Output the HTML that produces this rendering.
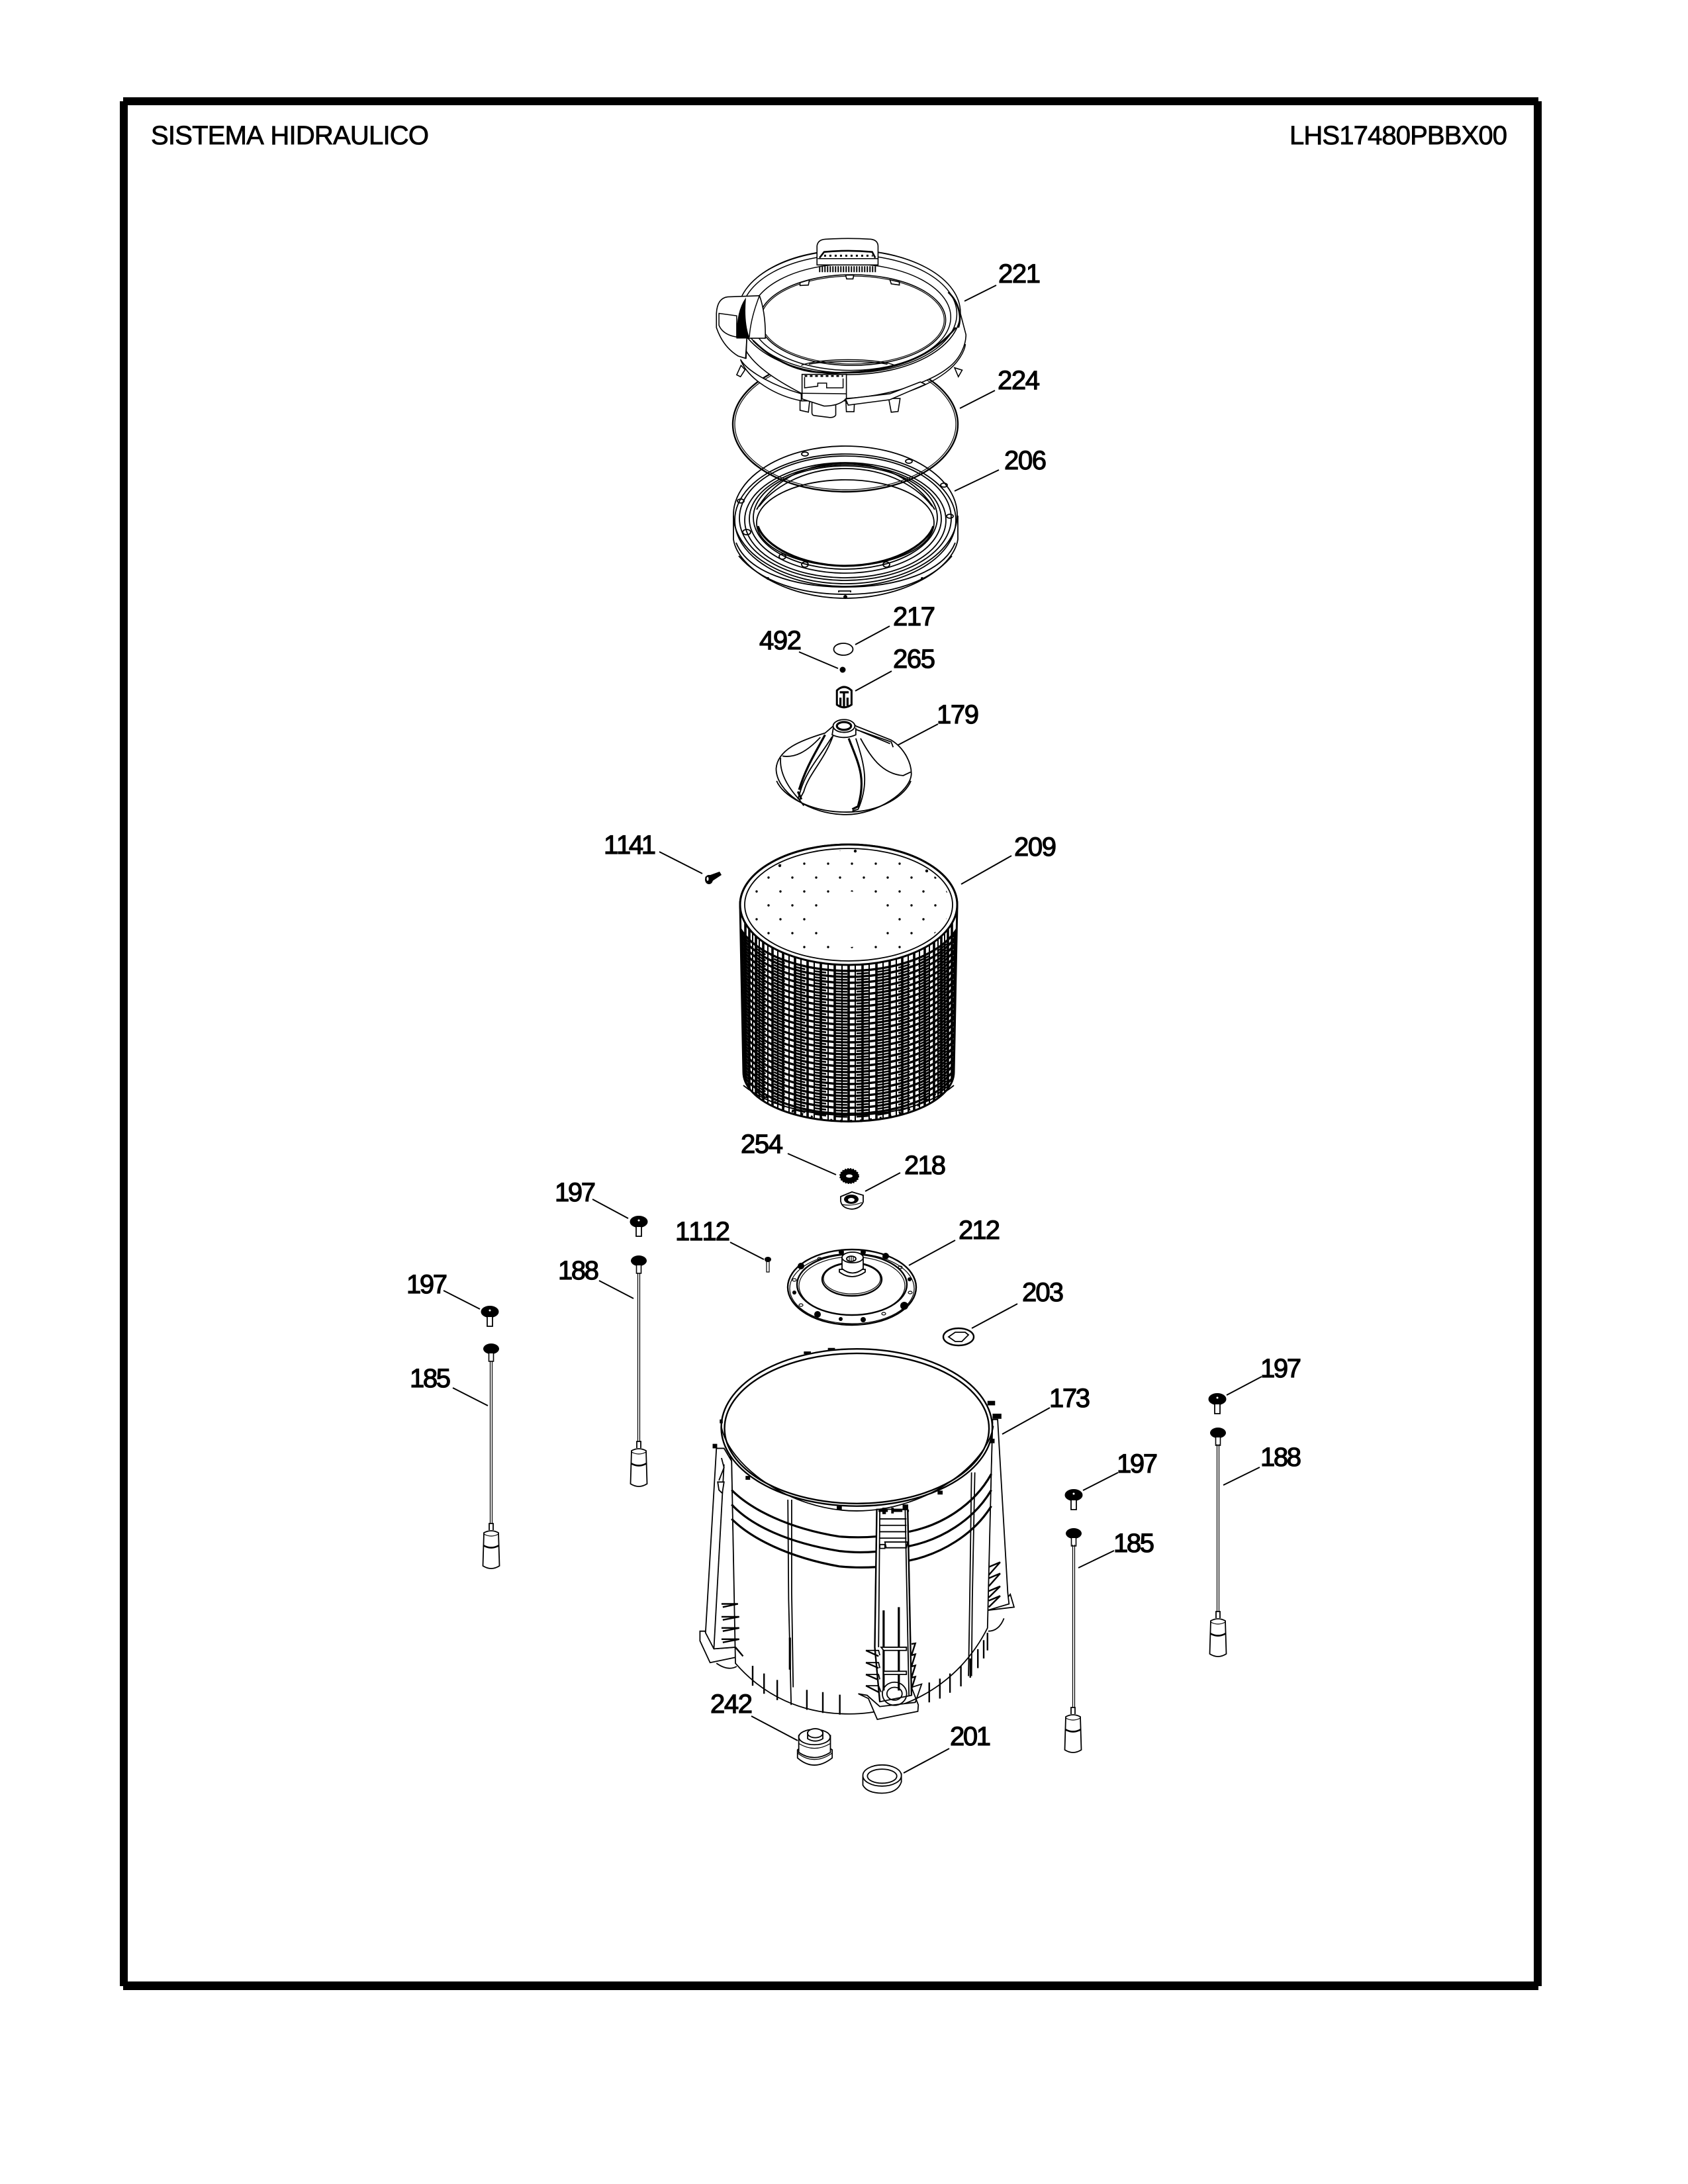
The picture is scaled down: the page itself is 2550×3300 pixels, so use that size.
<!DOCTYPE html>
<html><head><meta charset="utf-8"><title>SISTEMA HIDRAULICO</title>
<style>
html,body{margin:0;padding:0;background:#fff;width:2550px;height:3300px;overflow:hidden}
svg{display:block}
.z *{vector-effect:non-scaling-stroke}
.l{stroke:#000;stroke-width:1.8;fill:none}
.w{stroke:#000;stroke-width:1.8;fill:#fff}
.t{stroke:#000;stroke-width:3.2;fill:none}
.n{stroke:#000;stroke-width:1.2;fill:none}
.b{fill:#000;stroke:#000;stroke-width:1}
.thin .l{stroke-width:1.5}.thin .w{stroke-width:1.6}.thin .t{stroke-width:2.6}
text{font-family:"Liberation Sans",Arial,sans-serif;font-size:40px;fill:#000;font-kerning:none}
.lb{stroke:#000;stroke-width:1.2}
.tt{stroke:#000;stroke-width:.8}
</style></head><body>
<svg xmlns="http://www.w3.org/2000/svg" width="2550" height="3300" viewBox="0 0 2550 3300">
<defs>
<clipPath id="bk"><path d="M1118 1367A164 91 0 0 1 1446 1367L1441 1620A158 74 0 0 1 1123 1620Z"/></clipPath>
<clipPath id="tp"><ellipse cx="1282" cy="1367" rx="153" ry="82"/></clipPath>
<pattern id="dots" x="1282" y="1300" width="36" height="42" patternUnits="userSpaceOnUse">
<circle cx="5" cy="5" r="1.7"/><circle cx="23" cy="26" r="1.7"/></pattern>
<path id="a" d="M1110 0A172 92 0 0 0 1454 0" fill="none"/>
<g id="set"><use href="#a" y="1375"/><use href="#a" y="1384"/><use href="#a" y="1393"/><use href="#a" y="1402"/><use href="#a" y="1411"/><use href="#a" y="1420"/><use href="#a" y="1429"/><use href="#a" y="1438"/><use href="#a" y="1447"/><use href="#a" y="1456"/><use href="#a" y="1465"/><use href="#a" y="1474"/><use href="#a" y="1483"/><use href="#a" y="1492"/><use href="#a" y="1501"/><use href="#a" y="1510"/><use href="#a" y="1519"/><use href="#a" y="1528"/><use href="#a" y="1537"/><use href="#a" y="1546"/><use href="#a" y="1555"/><use href="#a" y="1564"/><use href="#a" y="1573"/><use href="#a" y="1582"/><use href="#a" y="1591"/></g>
<g id="capA"><ellipse cx="0" cy="0" rx="13.5" ry="9" fill="#000"/><circle cx="0" cy="-2" r="1.5" fill="#fff"/><path d="M-4 8V22H4V8" fill="#fff" stroke="#000" stroke-width="1.8"/></g>
<g id="capB"><ellipse cx="0" cy="0" rx="12" ry="8" fill="#000"/><path d="M-3.500 7V19H3.500V7" fill="#fff" stroke="#000" stroke-width="1.6"/></g>
<g id="wt"><path d="M-3 0V-10H3V0" fill="#fff" stroke="#000" stroke-width="1.8"/>
<path d="M-11 4L-12.500 54Q0 62 12.500 54L11 4Q0 -2 -11 4Z" fill="#fff" stroke="#000" stroke-width="1.8"/>
<path d="M-11 6Q0 12 11 6" class="n"/><path d="M-12 23Q0 30 12 23" class="l" style="stroke-width:2.6"/></g>
</defs>

<!-- frame -->
<rect x="186" y="147" width="2138" height="12"/>
<rect x="186" y="2994" width="2138" height="13"/>
<rect x="181" y="153" width="12" height="2848"/>
<rect x="2317" y="153" width="12" height="2848"/>
<text class="tt" x="228" y="218" textLength="420">SISTEMA HIDRAULICO</text>
<text class="tt" x="1948" y="218" textLength="329">LHS17480PBBX00</text>

<!-- 206 -->
<g class="z">
<path class="w" d="M1108 780V815C1115 860 1190 904 1277 904C1365 904 1440 860 1447 815V780Z"/>
<ellipse class="w" cx="1277" cy="778" rx="169" ry="104"/>
<ellipse class="l" cx="1277" cy="786" rx="167" ry="100" />
<path class="l" d="M1112 820C1130 865 1200 887 1277 887C1355 887 1425 865 1443 820"/>
<path class="l" d="M1116 840C1150 880 1210 898 1277 898C1345 898 1405 880 1438 840"/>
<ellipse class="l" cx="1277" cy="783" rx="160" ry="94"/>
<ellipse class="l" cx="1277" cy="786" rx="152" ry="87"/>
<ellipse class="l" cx="1277" cy="784" rx="145" ry="82"/>
<ellipse class="l" cx="1277" cy="782" rx="139" ry="78"/>
<ellipse class="w" cx="1277" cy="790" rx="134" ry="65"/>
<path class="t" d="M1145 795C1155 825 1210 855 1277 855C1345 855 1400 825 1410 795"/>
<path class="l" d="M1277 700C1200 700 1160 740 1143 770M1277 708C1210 708 1165 740 1147 765M1277 700C1350 700 1395 740 1412 770M1277 708C1345 708 1390 740 1408 765"/>
<g class="l"><ellipse cx="1119" cy="757" rx="5" ry="3"/><ellipse cx="1435" cy="780" rx="5" ry="3"/><ellipse cx="1426" cy="733" rx="5" ry="3"/><ellipse cx="1216" cy="686" rx="5" ry="3"/><ellipse cx="1373" cy="697" rx="5" ry="3"/><ellipse cx="1182" cy="841" rx="5" ry="4"/><ellipse cx="1216" cy="853" rx="5" ry="4"/><ellipse cx="1339" cy="853" rx="5" ry="4"/><ellipse cx="1128" cy="804" rx="6" ry="4"/></g>
<circle cx="1277" cy="902" r="3"/><circle cx="1160" cy="874" r="2"/><circle cx="1393" cy="874" r="2"/>
<path class="l" d="M1267 895V893H1285V895"/>
</g>

<!-- 224 ring -->
<ellipse class="l" cx="1277" cy="641" rx="170" ry="102" style="stroke-width:2.4"/>
<ellipse class="n" cx="1277" cy="641" rx="167" ry="99"/>

<!-- 221 -->
<g class="z thin" transform="translate(1000 320) scale(.3827 .3571)">
<path class="w" d="M295 690L312 650L328 668L310 698Z"/>
<path class="w" d="M1155 660L1185 670L1170 698Z"/>
<path class="w" d="M545 790L584 790L578 848L545 840Z"/>
<path class="w" d="M726 800L760 800L758 846L728 846Z"/>
<path class="w" d="M895 790L940 790L932 845L905 848Z"/>
<path class="w" d="M592 800H686V860Q680 872 660 870L600 862Q592 860 592 850Z"/>
<path class="w" d="M310 625C340 680 450 740 550 770L552 800C450 780 340 710 310 625Z"/>
<path class="w" d="M300 430C300 560 320 640 550 768V800H725V790C900 780 1060 720 1130 660C1180 620 1200 560 1200 520L1178 430C1178 300 1000 160 740 163C480 160 300 290 300 430Z"/>
<path class="l" d="M728 810C900 800 1040 745 1120 680C1170 640 1195 590 1198 560"/>
<ellipse class="w" cx="739" cy="426" rx="439" ry="263"/>
<ellipse class="l" cx="739" cy="432" rx="425" ry="250"/>
<ellipse class="l" cx="745" cy="446" rx="395" ry="225"/>
<ellipse class="w" cx="752" cy="458" rx="368" ry="192"/>
<ellipse class="n" cx="752" cy="458" rx="362" ry="186"/>
<path class="t" d="M360 545C420 610 520 680 640 680C900 690 1060 620 1160 490"/>
<path class="t" d="M1130 340C1170 380 1185 440 1170 490"/>
<path class="l" d="M550 650C620 618 850 618 920 650M580 645C650 630 820 630 890 645"/>
<path class="w" d="M545 300L582 288L578 310L545 312Z"/>
<path class="w" d="M725 268H757L754 284H729Z"/>
<path class="w" d="M900 288L937 297V310L905 305Z"/>
<!-- top handle -->
<path class="w" d="M612 225V145Q615 118 645 116Q735 110 825 116Q852 120 853 145V225Z"/>
<path class="t" d="M622 195L640 170Q735 160 830 170L842 195"/>
<path stroke="#000" stroke-width="3" stroke-dasharray="3 5" fill="none" d="M640 186H832"/>
<path class="l" d="M615 198H855"/>
<path stroke="#000" stroke-width="9" stroke-dasharray="2 2" fill="none" d="M620 243H848"/>
<!-- left handle -->
<path class="w" d="M215 430Q218 365 260 360L385 355Q410 430 408 535L335 535L330 620L300 610Q240 570 215 490Z"/>
<path class="l" d="M225 430L295 440V530Q240 520 225 480Z"/>
<path class="b" d="M330 368Q295 420 295 535H345Q322 470 330 368Z"/>
<path class="l" d="M335 535L332 622"/>
<path class="l" d="M385 355Q350 450 345 530"/>
<!-- front block -->
<path class="w" d="M553 688H728V790Q700 822 640 822L553 792Z"/>
<path class="l" d="M563 700V745L615 738V725H650V745L715 745V705"/>
<path class="t" d="M563 695H715" style="stroke-dasharray:4 4"/>
<path class="l" d="M553 768L728 770"/>
<path class="w" d="M725 792L900 770L1020 720L1040 730L900 795L735 818Z"/>
</g>

<!-- 217 492 265 -->
<ellipse class="l" cx="1274" cy="981" rx="14.5" ry="9"/>
<circle cx="1273" cy="1012" r="4.5"/>
<g class="z" transform="translate(1050 880) scale(.3571 .5356)">
<path class="w" d="M600 305Q630 285 662 305V345Q630 360 600 345Z" style="stroke-width:3"/>
<path class="t" d="M612 310H650M630 310V350M615 325V348M645 325V348"/>

<!-- 179 -->
<path class="w" d="M343 525C350 470 450 445 550 425L585 405Q630 375 680 405L830 445C880 465 915 505 915 540C912 590 770 655 640 655C480 655 343 590 343 525Z"/>
<path class="l" d="M345 560C370 600 480 648 640 648C790 648 890 600 913 560"/>
<path class="l" d="M362 495Q355 550 440 612L460 630"/>
<path class="l" d="M370 490C420 495 470 480 530 437"/>
<path class="l" d="M580 435C530 490 470 530 445 590L435 612"/>
<path class="t" d="M550 430C510 480 470 520 440 585"/>
<path class="l" d="M585 430C550 500 480 540 460 590L440 615"/>
<path class="t" d="M650 440C690 510 725 550 690 630"/>
<path class="l" d="M680 440C720 520 735 570 690 640L665 645"/>
<path class="l" d="M700 440C740 490 790 540 880 545L912 535"/>
<path class="l" d="M680 415L830 450L838 465"/>
<path class="l" d="M700 420L825 455"/>
<path class="l" d="M585 410L580 430Q630 445 680 430L680 410"/>
<ellipse class="w" cx="630" cy="405" rx="46" ry="18"/>
<ellipse class="t" cx="630" cy="405" rx="30" ry="11"/>
<path class="t" d="M435 590L450 612M665 640L695 630"/>
</g>

<!-- 1141 screw -->
<path d="M1065 1325L1087 1317L1090 1322L1072 1334Z" fill="#000"/><ellipse cx="1071" cy="1329" rx="6" ry="7" fill="#000"/><ellipse cx="1069" cy="1328" rx="1.5" ry="3" fill="#fff"/>

<!-- 209 basket -->
<path fill="#fff" stroke="#000" stroke-width="3" d="M1118 1367A164 91 0 0 1 1446 1367L1441 1620A158 74 0 0 1 1123 1620Z"/>
<g clip-path="url(#bk)">
<g stroke="#000" stroke-width="3.4"><use href="#set"/></g>
<g stroke="#000" stroke-width="2.6" stroke-dasharray="18 14" transform="translate(0 4.5)"><use href="#set"/></g>
<path fill="none" stroke="#000" stroke-width="3.6" d="M1282 1360V1710M1303 1360V1710M1261 1360V1710M1324 1360V1710M1240 1360V1710M1344 1360V1710M1220 1360V1710M1363 1360V1710M1201 1360V1710M1381 1360V1710M1183 1360V1710M1397 1360V1710M1167 1360V1710M1411 1360V1710M1153 1360V1710M1422 1360V1710M1142 1360V1710M1432 1360V1710M1132 1360V1710M1438 1360V1710M1126 1360V1710"/>
<path fill="none" stroke="#000" stroke-width="2" d="M1292 1360V1710M1272 1360V1710M1313 1360V1710M1251 1360V1710M1334 1360V1710M1230 1360V1710M1354 1360V1710M1210 1360V1710M1372 1360V1710M1192 1360V1710M1389 1360V1710M1175 1360V1710M1404 1360V1710M1160 1360V1710M1417 1360V1710M1147 1360V1710M1427 1360V1710M1137 1360V1710"/>
</g>
<path fill="none" stroke="#000" stroke-width="2" d="M1123 1640C1160 1670 1220 1685 1282 1685C1345 1685 1405 1670 1441 1640"/>
<path fill="none" stroke="#000" stroke-width="4" stroke-dasharray="3 12" d="M1125 1625C1160 1672 1220 1694 1282 1694C1345 1694 1405 1672 1439 1625"/>
<ellipse class="w" cx="1282" cy="1367" rx="164" ry="91" style="stroke-width:3"/>
<ellipse class="l" cx="1282" cy="1367" rx="157" ry="85"/>
<rect x="1120" y="1280" width="320" height="170" fill="url(#dots)" clip-path="url(#tp)"/>
<ellipse cx="1282" cy="1389" rx="47" ry="42" fill="#fff"/>
<circle cx="1292" cy="1286" r="2.2"/><circle cx="1178" cy="1308" r="2.2"/><circle cx="1400" cy="1316" r="2.2"/>

<!-- 254 218 -->
<ellipse cx="1283" cy="1777" rx="14" ry="11" fill="#000" stroke="#000" stroke-width="2" stroke-dasharray="2 2"/>
<ellipse cx="1283" cy="1777" rx="5" ry="2.5" fill="#fff"/>
<path class="w" d="M1270 1808L1287 1801L1304 1806L1304 1816Q1300 1826 1287 1827Q1272 1826 1270 1815Z"/>
<ellipse cx="1286" cy="1812" rx="11" ry="7" fill="#000"/><ellipse cx="1286" cy="1813" rx="5" ry="3" fill="#fff"/>
<path class="n" d="M1272 1820Q1287 1823 1302 1817"/>

<!-- 212 -->
<ellipse class="w" cx="1287" cy="1945" rx="97" ry="57" style="stroke-width:2.4"/>
<ellipse class="n" cx="1287" cy="1947" rx="94" ry="53"/>
<ellipse class="l" cx="1287" cy="1941" rx="83" ry="46" style="stroke-width:2.4"/>
<ellipse class="n" cx="1287" cy="1943" rx="80" ry="44"/>
<ellipse class="l" cx="1287" cy="1933" rx="45" ry="25" style="stroke-width:2.4"/>
<ellipse class="n" cx="1287" cy="1932" rx="43" ry="23"/>
<path class="w" d="M1268 1918V1922Q1287 1936 1307 1922V1918Z"/>
<path class="w" d="M1272 1900V1917Q1288 1930 1304 1917V1900Z"/>
<ellipse class="w" cx="1288" cy="1900" rx="16" ry="8"/>
<ellipse class="l" cx="1286" cy="1902" rx="7" ry="4"/><path class="n" d="M1283 1899V1905M1286 1898V1906M1289 1899V1905"/>
<g fill="#000"><circle cx="1271" cy="1892" r="4"/><circle cx="1304" cy="1892" r="4"/><circle cx="1210" cy="1913" r="5"/><circle cx="1338" cy="1898" r="5"/><circle cx="1366" cy="1973" r="6"/><circle cx="1235" cy="1986" r="5"/><circle cx="1304" cy="1994" r="4"/><circle cx="1270" cy="1993" r="3"/><circle cx="1200" cy="1953" r="3"/><circle cx="1374" cy="1933" r="3"/></g>
<g class="n"><ellipse cx="1200" cy="1934" rx="3" ry="2"/><ellipse cx="1375" cy="1953" rx="3" ry="2"/><ellipse cx="1360" cy="1915" rx="3" ry="2"/><ellipse cx="1238" cy="1902" rx="3" ry="2"/><ellipse cx="1335" cy="1985" rx="3" ry="2"/><ellipse cx="1210" cy="1972" rx="3" ry="2"/></g>

<!-- 1112 screw -->
<ellipse cx="1160" cy="1903" rx="5" ry="4" fill="#000"/><path d="M1158 1905V1922H1162V1905" class="n" fill="#fff"/>

<!-- 203 -->
<ellipse class="w" cx="1448" cy="2020" rx="23" ry="13" style="stroke-width:2.4"/>
<path class="l" d="M1433 2020L1443 2013H1458L1463 2017L1453 2027H1443Z"/>

<!-- 173 -->
<g class="z" transform="translate(1000 1980) scale(.3827 .4847)">
<path class="w" d="M150 1000L150 1030L190 1098L300 1080L320 1075L290 1050L205 1055L170 1000Z"/>
<path class="w" d="M1285 935L1390 925L1375 885L1360 900L1290 920Z"/>
<path class="w" d="M215 430L172 1005L205 1055L290 1050L275 470L245 430Z"/>
<path class="w" d="M1305 340H1325L1365 880L1370 915L1285 935Z"/>
<path class="w" d="M235 360L275 470L290 1100C400 1200 550 1258 740 1258C950 1258 1170 1170 1285 990L1300 500L1305 350Z"/>
<path class="l" d="M205 1055L245 480"/>
<path class="l" d="M1288 1000Q1330 1000 1350 960"/>
<path class="l" d="M215 1100Q260 1125 295 1110"/>
<path class="t" d="M275 560C350 620 500 680 700 705C750 708 800 708 845 705"/>
<path class="t" d="M275 605C350 670 500 725 700 750C750 755 800 755 845 752"/>
<path class="t" d="M275 650C350 710 500 770 700 798C750 802 800 802 845 800"/>
<path class="t" d="M975 690C1100 670 1230 610 1300 510"/>
<path class="t" d="M975 735C1100 715 1230 655 1300 560"/>
<path class="t" d="M975 780C1100 760 1230 700 1300 610"/>
<path class="l" d="M497 590L500 900L510 1230"/>
<path class="l" d="M512 590L512 880L518 1175"/>
<path class="t" d="M505 1020V1120"/>
<path class="l" d="M1222 505L1215 900L1210 1140"/>
<path class="l" d="M1235 505L1225 900L1222 1140"/>
<!-- bottom ticks -->
<path class="l" style="stroke-width:2.4" d="M358 1108V1170M403 1132V1195M455 1152V1215M572 1183V1245M635 1190V1255M702 1198V1260M1055 1160V1222M1097 1148V1210M1137 1132V1192M1180 1108V1172M1217 1085V1145M1247 1056V1115M1270 1028V1085M1285 1005V1060"/>
<!-- center column -->
<path class="w" d="M848 620H970L985 1200L860 1220L840 1050Z"/>
<path class="l" style="stroke-width:2.4" d="M848 620L840 1050L860 1220M970 620L985 1200"/>
<path class="l" d="M860 620L855 1050M960 620L975 1200"/>
<path class="l" d="M858 650H965M858 670H965M858 690H965M858 710H965"/>
<path class="l" d="M880 722H970L965 740H885ZM860 730H880V742H860Z"/>
<path class="t" d="M855 625H975" style="stroke-dasharray:14 8"/>
<path class="t" d="M875 935V1185M935 925V1185"/>
<path class="w" d="M775 1195L810 1200L860 1235L1000 1222L1025 1165L985 1175L1012 1230L1010 1250L850 1275L815 1210Z"/>
<ellipse class="l" cx="918" cy="1195" rx="30" ry="20"/>
<ellipse class="l" cx="918" cy="1195" rx="48" ry="36"/>
<path class="w" d="M865 1050H965V1060H875ZM875 1125H965V1135H875Z"/>
<!-- fins -->
<path class="l" d="M805 1060H855L860 1075M805 1098H855L860 1115M805 1135H855L860 1150M805 1170H855L865 1190"/>
<path class="l" style="stroke-width:2.4" d="M805 1060L855 1078M805 1098L855 1115M805 1135L855 1152M805 1170L855 1190"/>
<path class="l" style="stroke-width:2.4" d="M985 1040L1000 1038L985 1075M985 1075L1000 1072L985 1110M985 1110L1000 1107L985 1145M985 1145L1000 1142L985 1180"/>
<path class="l" style="stroke-width:2.4" d="M235 915H300L240 925M235 955H305L240 965M235 990H305L240 1000M235 1025H305L240 1035M290 1050L320 1078"/>
<path class="l" style="stroke-width:2.4" d="M1290 800L1335 785L1290 825M1290 835L1335 820L1290 860M1290 875L1335 860L1290 895M1290 905L1335 890L1290 925"/>
<!-- left leg top -->
<path class="l" d="M235 460L245 490L225 530"/>
<path class="w" d="M220 535H245L238 570L225 560Z"/>
<!-- rim -->
<ellipse class="w" cx="769" cy="365" rx="535" ry="245" style="stroke-width:2.4"/>
<ellipse class="w" cx="769" cy="368" rx="522" ry="234" style="stroke-width:2.4"/>
<path class="l" d="M234 360C260 480 500 625 769 625C1040 625 1285 480 1308 360"/>
<g fill="#000"><rect x="690" y="610" width="20" height="12"/><rect x="330" y="516" width="18" height="12"/><rect x="1088" y="562" width="20" height="12"/><rect x="560" y="128" width="28" height="8"/><rect x="655" y="117" width="28" height="8"/><rect x="200" y="416" width="18" height="14"/><rect x="1285" y="282" width="30" height="14"/><rect x="1305" y="322" width="35" height="16"/><rect x="1295" y="400" width="18" height="14"/><rect x="228" y="340" width="12" height="12"/><rect x="870" y="615" width="14" height="20"/><rect x="905" y="615" width="10" height="18"/><rect x="950" y="605" width="22" height="18"/></g>
<!-- 242 -->
<path class="w" d="M535 1370V1395Q600 1440 672 1395V1370Q600 1330 535 1370Z"/>
<path class="n" d="M535 1380Q600 1420 672 1380"/>
<path class="w" d="M540 1325V1378Q600 1410 665 1378V1325Z"/>
<ellipse class="w" cx="602" cy="1330" rx="62" ry="24"/>
<path class="n" d="M540 1350Q602 1380 665 1350"/>
<path class="w" d="M575 1315V1335Q605 1350 635 1335V1315Z"/>
<ellipse class="w" cx="605" cy="1318" rx="30" ry="14"/>
<!-- 201 -->
<path class="w" d="M793 1455V1480Q810 1505 868 1505Q930 1505 945 1470V1445Z"/>
<ellipse class="w" cx="869" cy="1450" rx="76" ry="33"/>
<ellipse class="l" cx="869" cy="1452" rx="58" ry="22"/>
</g>

<!-- weights -->
<use href="#capA" x="965" y="1846"/><use href="#capB" x="965" y="1905"/>
<path class="n" d="M963.500 1923V2178M966.500 1923V2178"/><use href="#wt" x="965" y="2188"/>
<use href="#capA" x="740" y="1982"/><use href="#capB" x="742" y="2038"/>
<path class="n" d="M740.500 2056V2303M743.500 2056V2303"/><use href="#wt" x="742" y="2312"/>
<use href="#capA" x="1622" y="2259"/><use href="#capB" x="1622" y="2317"/>
<path class="n" d="M1620.500 2334V2581M1623.500 2334V2581"/><use href="#wt" x="1621" y="2590"/>
<use href="#capA" x="1839" y="2114"/><use href="#capB" x="1840" y="2165"/>
<path class="n" d="M1838.500 2182V2436M1841.500 2182V2436"/><use href="#wt" x="1840" y="2445"/>

<!-- leaders -->
<g stroke="#000" stroke-width="2" fill="none">
<path d="M1505 431L1457 455"/><path d="M1503 590L1450 617"/><path d="M1509 710L1442 742"/>
<path d="M1344 946L1292 974"/><path d="M1207 985L1266 1010"/><path d="M1347 1014L1292 1044"/>
<path d="M1417 1094L1356 1126"/><path d="M1528 1293L1452 1336"/><path d="M996 1287L1061 1320"/>
<path d="M1190 1743L1263 1775"/><path d="M1360 1772L1307 1800"/><path d="M1443 1874L1373 1912"/>
<path d="M1537 1970L1468 2007"/><path d="M1103 1877L1154 1903"/><path d="M895 1812L949 1841"/>
<path d="M905 1935L957 1962"/><path d="M670 1950L725 1978"/><path d="M684 2097L737 2124"/>
<path d="M1586 2127L1514 2167"/><path d="M1906 2080L1853 2108"/><path d="M1903 2217L1848 2244"/>
<path d="M1689 2225L1636 2252"/><path d="M1683 2343L1629 2369"/>
<path d="M1135 2593L1205 2630"/><path d="M1434 2642L1365 2679"/>
</g>

<!-- labels -->
<g class="lb">
<text x="1508" y="427" textLength="64">221</text>
<text x="1507" y="588" textLength="64">224</text>
<text x="1517" y="709" textLength="64">206</text>
<text x="1349" y="945" textLength="64">217</text>
<text x="1147" y="981" textLength="64">492</text>
<text x="1349" y="1009" textLength="64">265</text>
<text x="1415" y="1093" textLength="64">179</text>
<text x="1532" y="1293" textLength="64">209</text>
<text x="912" y="1290" textLength="79">1141</text>
<text x="1119" y="1742" textLength="64">254</text>
<text x="1366" y="1774" textLength="63">218</text>
<text x="1448" y="1872" textLength="63">212</text>
<text x="1020" y="1874" textLength="83">1112</text>
<text x="838" y="1815" textLength="62">197</text>
<text x="843" y="1933" textLength="62">188</text>
<text x="1544" y="1966" textLength="63">203</text>
<text x="614" y="1954" textLength="62">197</text>
<text x="619" y="2096" textLength="62">185</text>
<text x="1585" y="2126" textLength="62">173</text>
<text x="1904" y="2081" textLength="62">197</text>
<text x="1904" y="2215" textLength="62">188</text>
<text x="1687" y="2225" textLength="62">197</text>
<text x="1682" y="2345" textLength="62">185</text>
<text x="1073" y="2588" textLength="64">242</text>
<text x="1435" y="2637" textLength="62">201</text>
</g>
</svg>
</body></html>
